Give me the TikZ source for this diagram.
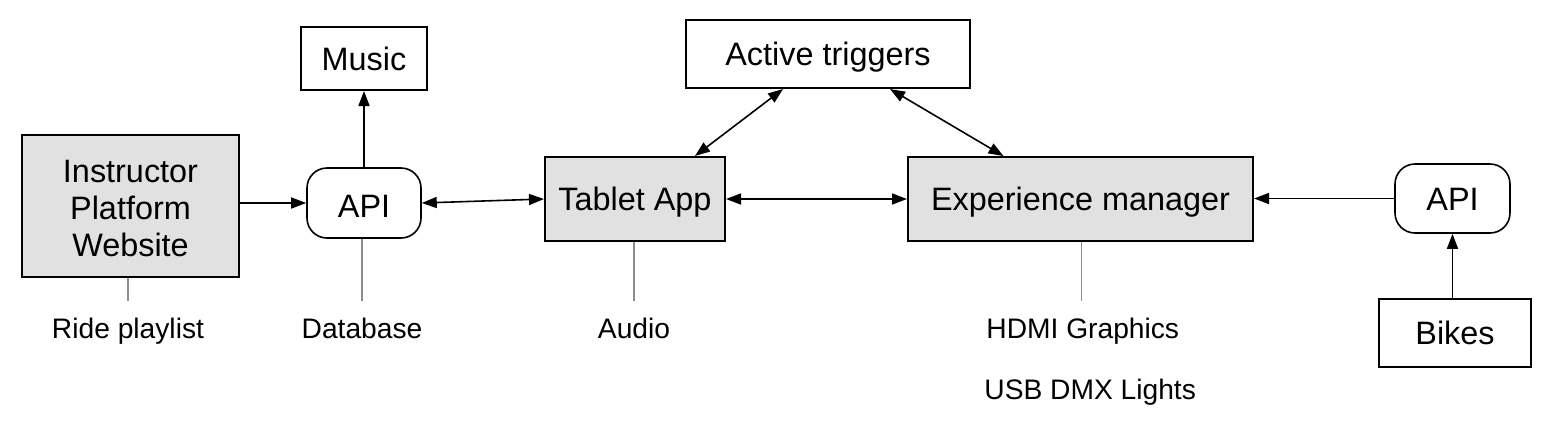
\documentclass[tikz,border=0pt]{standalone}
\usepackage{fontspec}
\setmainfont{Liberation Sans}
\usetikzlibrary{arrows.meta}
\definecolor{boxgray}{HTML}{E1E1E1}
\definecolor{stemgray}{HTML}{8C8C8C}
\tikzset{
  box/.style={draw=black,line width=1pt,inner sep=0pt,align=center,text depth=0pt,font=\fontsize{16.2}{18.5}\selectfont},
  graybox/.style={box,fill=boxgray},
  apibox/.style={draw=black,line width=0.8pt,rectangle,rounded corners=10pt,inner sep=0pt,font=\fontsize{16.2}{18.5}\selectfont},
  conn/.style={line width=0.8pt,-{Triangle[length=7.5pt,width=5.5pt]}},
  biconn/.style={line width=0.8pt,{Triangle[length=7.5pt,width=5.5pt]}-{Triangle[length=7.5pt,width=5.5pt]}},
  stem/.style={draw=stemgray,line width=0.8pt},
  lbl/.style={inner sep=0pt,text depth=0pt,font=\fontsize{14.1}{16}\selectfont}
}
\begin{document}
\begin{tikzpicture}[x=0.5pt,y=-0.5pt]
\useasboundingbox (0,0) rectangle (1554,436);
\node[graybox,align=none,text depth=,minimum width=108.5pt,minimum height=71pt] (inst) at (130.5,206) {\raisebox{-3pt}[\height][\depth]{\begin{tabular}{@{}c@{}}Instructor\\Platform\\Website\end{tabular}}};
\node[box,minimum width=63pt,minimum height=31.5pt] (music) at (364,58.5) {Music};
\node[box,minimum width=142pt,minimum height=34pt] (trig) at (828,54) {Active triggers};
\node[graybox,minimum width=90pt,minimum height=42pt] (tab) at (635,199) {Tablet App};
\node[graybox,minimum width=172.5pt,minimum height=42pt] (exp) at (1080.5,199) {Experience manager};
\node[box,minimum width=76pt,minimum height=34pt] (bikes) at (1455,333) {Bikes};
\node[apibox,minimum width=57pt,minimum height=35pt] (apil) at (364,203) {\raisebox{-1.5pt}[\height][\depth]{API}};
\node[apibox,minimum width=57.5pt,minimum height=34.5pt] (apir) at (1452.5,198.5) {\raisebox{-0.5pt}[\height][\depth]{API}};

\node[lbl] (ride) at (128,328) {Ride playlist};
\node[lbl] (db) at (362,328) {Database};
\node[lbl] (audio) at (634,328) {Audio};
\node[lbl,anchor=west] (hdmi) at (986,328) {HDMI Graphics};
\node[lbl,anchor=west] (usb) at (984,389) {USB DMX Lights};

\draw[stem] (inst.south -| ride.north) -- ([yshift=8pt]ride.north);
\draw[stem] (apil.south -| db.north) -- ([yshift=8pt]db.north);
\draw[stem] (tab.south -| audio.north) -- ([yshift=8pt]audio.north);
\draw[stem] ([xshift=0.5pt]exp.south) -- ([xshift=0.5pt,yshift=8pt]exp.south |- hdmi.north);

\draw[conn] (inst.east |- apil.west) -- (apil.west);
\draw[conn] (apil.north) -- (music.south);
\draw[biconn] (apil.east) -- (tab.west);
\draw[biconn] (tab.east) -- (exp.west);
\draw[biconn] ([xshift=30pt]tab.north) -- ([xshift=-22.5pt]trig.south);
\draw[biconn] ([xshift=-38.5pt]exp.north) -- ([xshift=31pt]trig.south);
\draw[conn] (apir.west) -- (exp.east |- apir.west);
\draw[conn] (bikes.north -| apir.south) -- (apir.south);
\end{tikzpicture}
\end{document}
